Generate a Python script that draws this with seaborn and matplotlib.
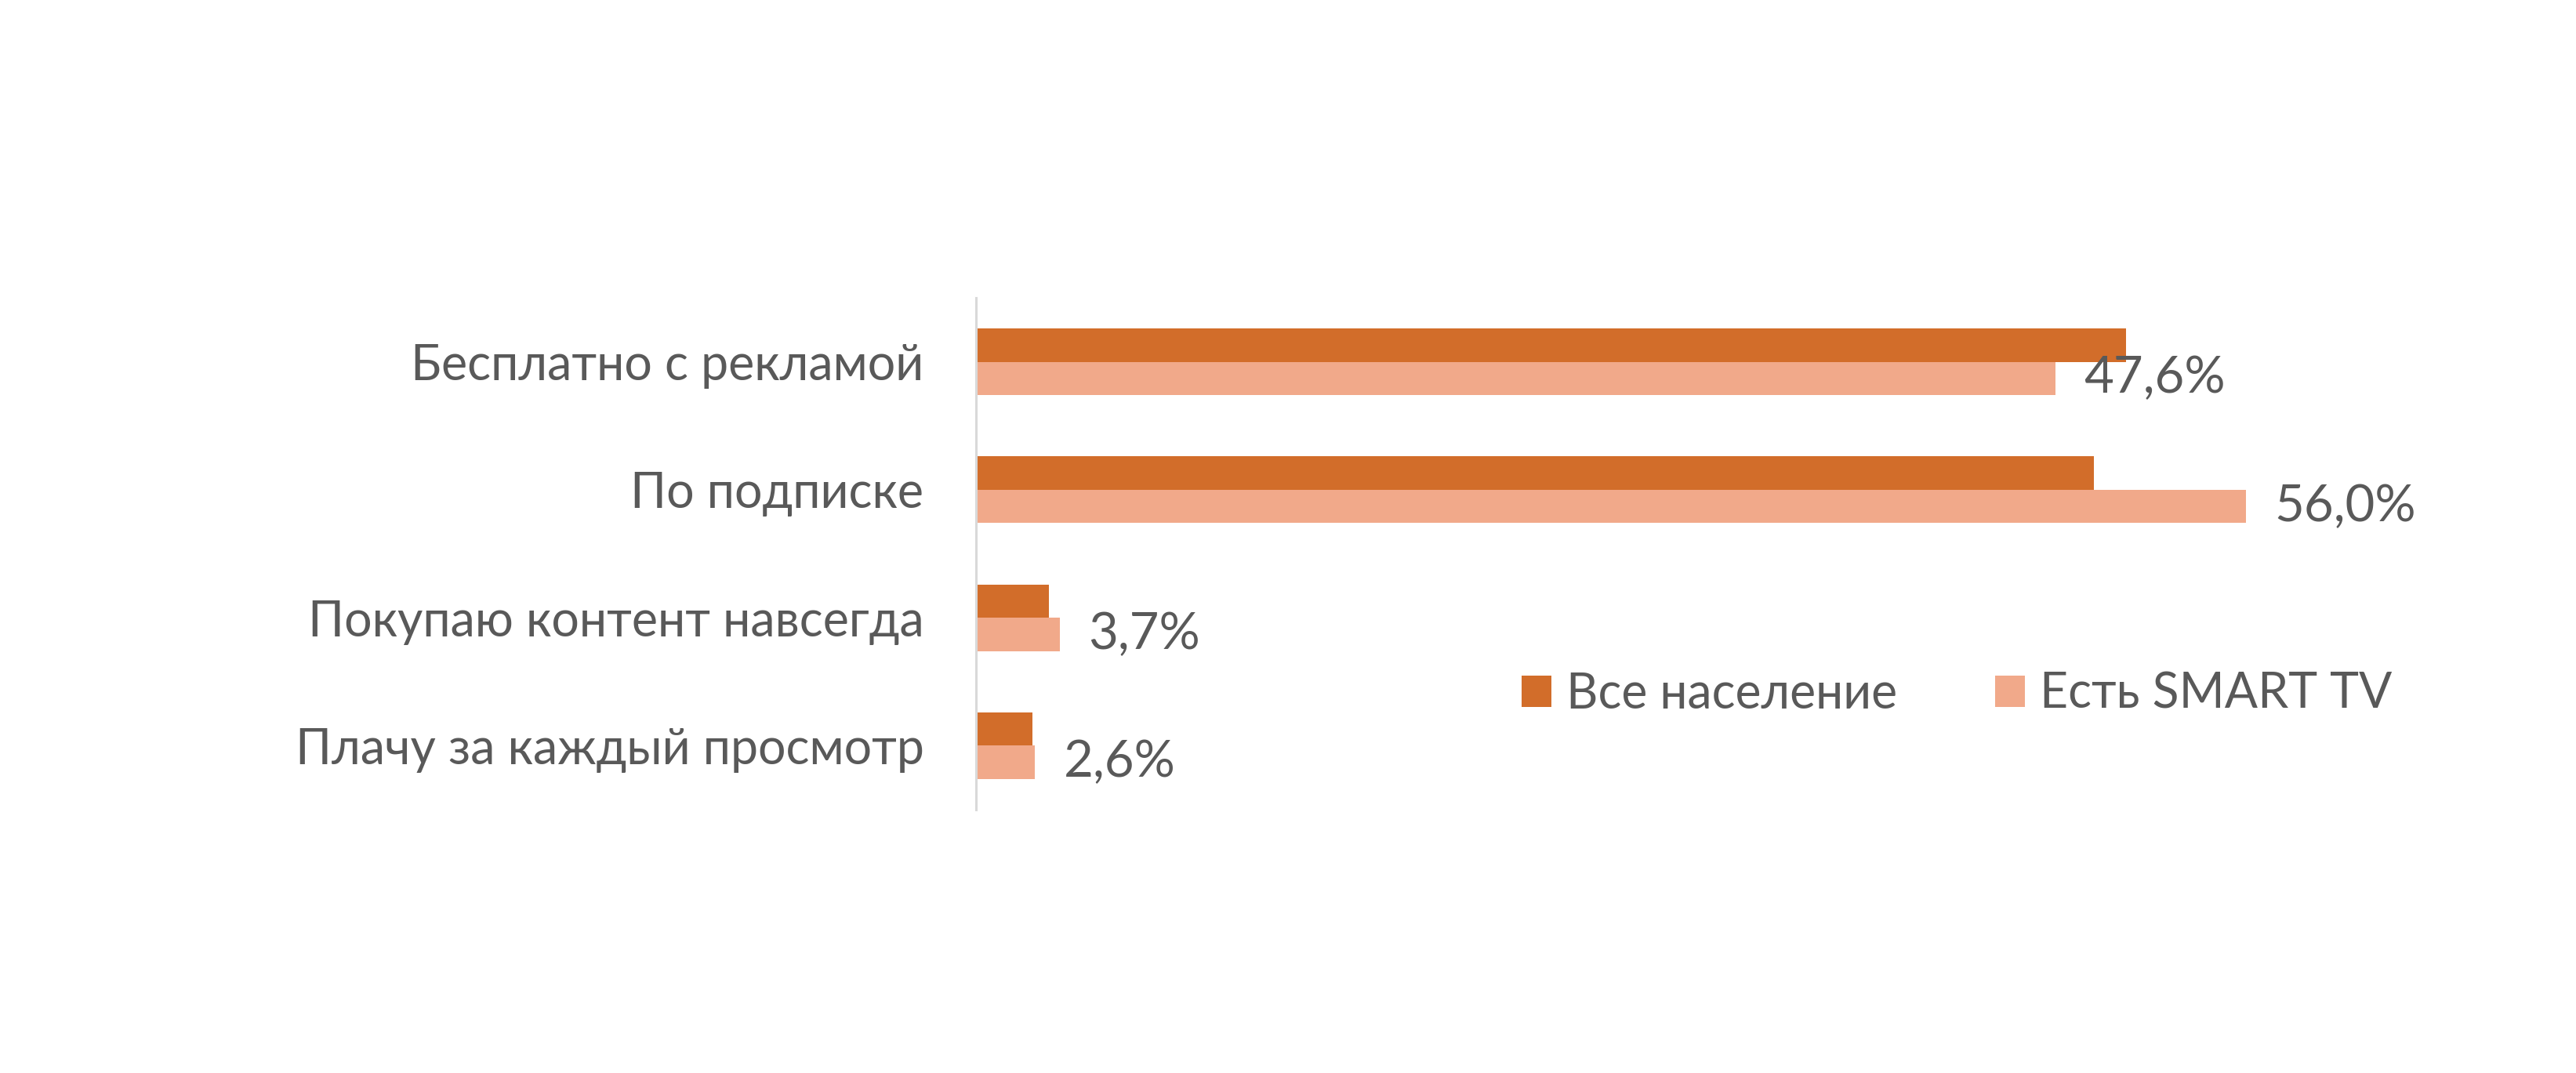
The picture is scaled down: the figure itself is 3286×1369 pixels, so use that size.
import pandas as pd
import seaborn as sns
import matplotlib.pyplot as plt

categories = ["Бесплатно с рекламой", "По подписке", "Покупаю контент навсегда", "Плачу за каждый просмотр"]
series_names = ["Все население", "Есть SMART TV"]
all_population = [50.7, 49.3, 3.2, 2.5]
smart_tv = [47.6, 56.0, 3.7, 2.6]
smart_tv_labels = ["47,6%", "56,0%", "3,7%", "2,6%"]

colors = ["#D26D2A", "#F1A98A"]
text_color = "#595959"

df = pd.DataFrame({
    "cat": categories * 2,
    "series": [series_names[0]] * 4 + [series_names[1]] * 4,
    "value": all_population + smart_tv,
})

sns.set_style("white")
plt.rcParams["font.family"] = ["Lato", "DejaVu Sans"]

fig = plt.figure(figsize=(32.87, 13.69), dpi=100)
ax = fig.add_axes([0.3788, 0.2454, 0.528, 0.477])

sns.barplot(data=df, y="cat", x="value", hue="series", order=categories,
            hue_order=series_names, palette=colors, width=0.52, gap=0,
            orient="h", ax=ax, legend=True, saturation=1, linewidth=0)

ax.set_xlim(0, 60)
ax.set_ylim(3.5, -0.5)
ax.set_xlabel("")
ax.set_ylabel("")
ax.set_xticks([])
ax.tick_params(axis="y", length=0, pad=48, labelsize=45.2, labelcolor=text_color)

for s in ["top", "right", "bottom"]:
    ax.spines[s].set_visible(False)
ax.spines["left"].set_color("#D9D9D9")
ax.spines["left"].set_linewidth(2.2)

ax.bar_label(ax.containers[1], labels=smart_tv_labels, padding=26,
             fontsize=47, color=text_color)

handles, labels = ax.get_legend_handles_labels()
ax.get_legend().remove()
fs = 45
leg = fig.legend(handles, labels, loc="center left",
                 bbox_to_anchor=(1941 / 3287, 1 - 886 / 1369),
                 frameon=False, fontsize=fs, ncol=2, borderpad=0,
                 borderaxespad=0, handlelength=38 / (fs * 100 / 72),
                 handleheight=38 / (fs * 100 / 72),
                 handletextpad=0.3, columnspacing=2.0)
for t in leg.get_texts():
    t.set_color(text_color)

fig.savefig("out.png", dpi=100, facecolor="white")
